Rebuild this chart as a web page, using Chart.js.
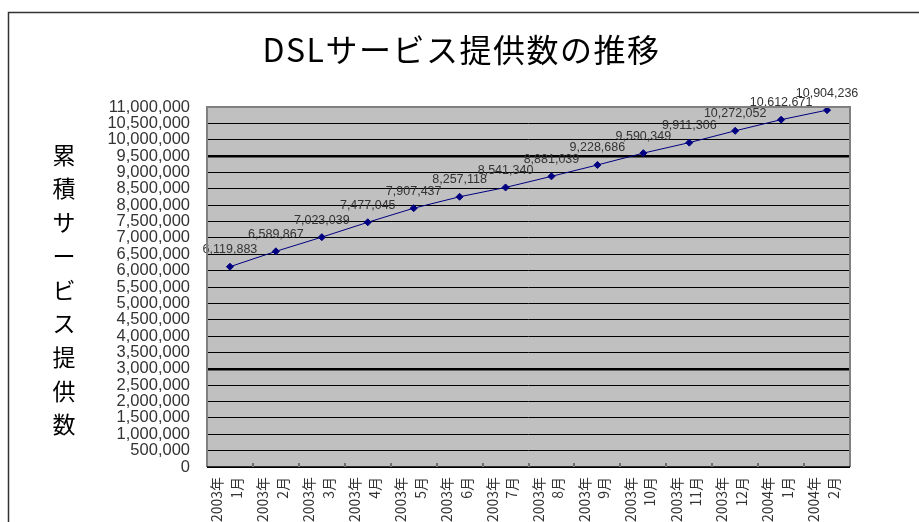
<!DOCTYPE html>
<html>
<head>
<meta charset="utf-8">
<script src="https://cdn.jsdelivr.net/npm/chart.js@4/dist/chart.umd.min.js"></script>
<style>
  body { margin: 0; background: #fff; overflow: hidden; }
  #wrap { width: 919px; height: 522px; }
</style>
</head>
<body>
<div id="wrap"><canvas id="myChart" width="919" height="522"></canvas></div>
<script>
// data
const months = [
  ['2003年', '1月'], ['2003年', '2月'], ['2003年', '3月'], ['2003年', '4月'],
  ['2003年', '5月'], ['2003年', '6月'], ['2003年', '7月'], ['2003年', '8月'],
  ['2003年', '9月'], ['2003年', '10月'], ['2003年', '11月'], ['2003年', '12月'],
  ['2004年', '1月'], ['2004年', '2月'],
]
const subscribers = [
  6119883, 6589867, 7023039, 7477045, 7907437, 8257118, 8541340,
  8881039, 9228686, 9590349, 9911306, 10272052, 10612671, 10904236,
]
const yMin = 0
const yMax = 11000000
const yStep = 500000
const chartTitle = 'DSLサービス提供数の推移'
const yTitle = '累積サービス提供数'

const fmt = v => Number(v).toLocaleString('en-US')

// white page, outer frame, title and grey plot area
const backdrop = {
  id: 'backdrop',
  beforeDraw(chart) {
    const {ctx, chartArea: a} = chart
    ctx.save()
    ctx.fillStyle = '#fff'
    ctx.fillRect(0, 0, chart.width, chart.height)
    ctx.strokeStyle = '#333'
    ctx.lineWidth = 1.5
    ctx.beginPath()
    ctx.moveTo(8.5, chart.height)
    ctx.lineTo(8.5, 12.5)
    ctx.lineTo(chart.width, 12.5)
    ctx.stroke()
    ctx.fillStyle = '#c0c0c0'
    ctx.fillRect(a.left, a.top, a.right - a.left, a.bottom - a.top)

    // chart title, centred on the page
    ctx.fillStyle = '#000'
    ctx.font = "32px 'Noto Sans CJK JP'"
    ctx.letterSpacing = '1.5px'
    ctx.textAlign = 'center'
    ctx.textBaseline = 'middle'
    ctx.fillText(chartTitle, chart.width / 2 + 2, 50)
    ctx.restore()
  },
  afterDraw(chart) {
    const {ctx, chartArea: a} = chart
    const xs = chart.scales.x
    ctx.save()
    // plot border
    ctx.strokeStyle = '#808080'
    ctx.lineWidth = 2
    ctx.beginPath()
    ctx.moveTo(a.left, a.bottom)
    ctx.lineTo(a.left, a.top)
    ctx.lineTo(a.right, a.top)
    ctx.lineTo(a.right, a.bottom)
    ctx.stroke()
    ctx.strokeStyle = '#000'
    ctx.lineWidth = 1.5
    ctx.beginPath()
    ctx.moveTo(a.left, a.bottom)
    ctx.lineTo(a.right, a.bottom)
    ctx.stroke()
    // small inward tick marks between categories
    ctx.strokeStyle = '#707070'
    ctx.lineWidth = 2
    for (let i = 1; i < months.length; i++) {
      const x = Math.round((xs.getPixelForTick(i - 1) + xs.getPixelForTick(i)) / 2)
      ctx.beginPath()
      ctx.moveTo(x, a.bottom - 4)
      ctx.lineTo(x, a.bottom)
      ctx.stroke()
    }
    // vertical y axis title, one character per line
    ctx.fillStyle = '#000'
    ctx.font = "23px 'Noto Sans CJK JP'"
    ctx.textAlign = 'center'
    ctx.textBaseline = 'middle'
    Array.from(yTitle).forEach((c, i) => {
      ctx.fillText(c, 64, 155 + i * 33.7)
    })
    ctx.restore()
  },
  afterDatasetsDraw(chart) {
    const {ctx} = chart
    const meta = chart.getDatasetMeta(0)
    ctx.save()
    ctx.fillStyle = '#333'
    ctx.font = "12.5px 'Liberation Sans'"
    ctx.textAlign = 'center'
    ctx.textBaseline = 'middle'
    meta.data.forEach((pt, i) => {
      ctx.fillText(fmt(subscribers[i]), pt.x, pt.y - 17)
    })
    ctx.restore()
  }
}

const data = {
  labels: months,
  datasets: [{
    label: yTitle,
    data: subscribers,
    borderColor: '#000080',
    backgroundColor: '#000080',
    borderWidth: 1,
    pointStyle: 'rectRot',
    pointRadius: 3.5,
    pointBackgroundColor: '#000080',
    pointBorderColor: '#000080',
    tension: 0,
  }]
}

const config = {
  type: 'line',
  data: data,
  plugins: [backdrop],
  options: {
    responsive: false,
    devicePixelRatio: 1,
    animation: false,
    layout: { padding: { left: 0, right: 69, top: 107, bottom: 0 } },
    plugins: {
      legend: { display: false },
      tooltip: { enabled: false },
      title: { display: false },
    },
    scales: {
      x: {
        offset: true,
        grid: { display: false, drawTicks: false },
        border: { display: false },
        ticks: {
          autoSkip: false,
          minRotation: 90,
          maxRotation: 90,
          padding: 10,
          labelOffset: -13,
          color: '#333',
          font: { family: "'Noto Sans CJK JP'", size: 14, lineHeight: 1.4 },
        },
        afterFit: s => { s.height = 55 },
      },
      y: {
        min: yMin,
        max: yMax,
        grid: {
          drawTicks: false,
          color: '#000',
          lineWidth: c => (c.tick && (c.tick.value === 3000000 || c.tick.value === 9500000)) ? 2.5 : 1,
        },
        border: { display: false },
        ticks: {
          stepSize: yStep,
          autoSkip: false,
          padding: 17,
          color: '#333',
          font: { family: "'Liberation Sans'", size: 16.5 },
          callback: v => fmt(v),
        },
        afterFit: s => { s.width = 207 },
      },
    },
  },
}

const myChart = new Chart(document.getElementById('myChart'), config)
</script>
</body>
</html>
